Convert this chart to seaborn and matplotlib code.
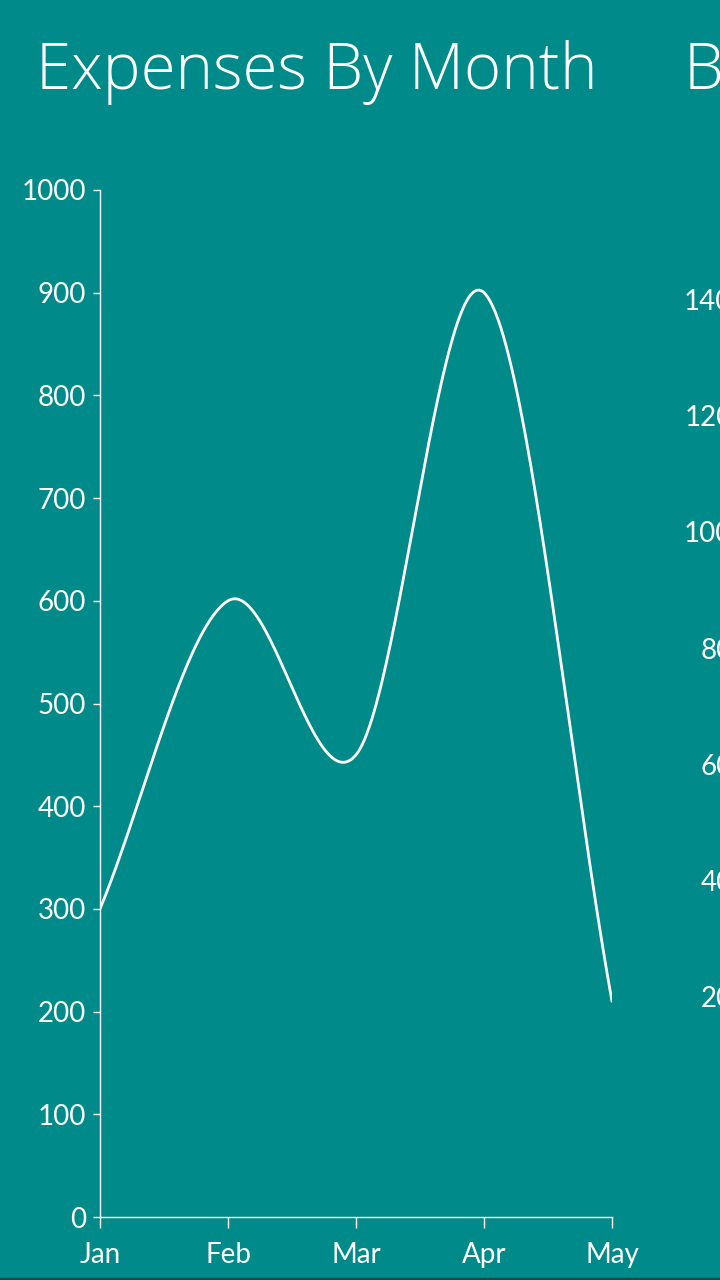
import numpy as np
import pandas as pd
import matplotlib
matplotlib.use("Agg")
import matplotlib.pyplot as plt
import seaborn as sns

# ---- data ----
months = ["Jan", "Feb", "Mar", "Apr", "May"]
expenses = [300, 600, 450, 900, 210]
y_ticks = [0, 100, 200, 300, 400, 500, 600, 700, 800, 900, 1000]
second_title = "Budget"
second_ticks = [20, 40, 60, 80, 100, 120, 140]

BG = "#008B8A"
FG = "white"

sns.set_theme(style="white", rc={
    "figure.facecolor": BG, "axes.facecolor": BG,
    "axes.edgecolor": FG, "xtick.color": FG, "ytick.color": FG,
    "text.color": FG, "axes.labelcolor": FG,
})
plt.rcParams["font.family"] = ["Lato", "DejaVu Sans"]


def catmull_rom(vals, n=200):
    v = np.asarray(vals, dtype=float)
    k = len(v)
    m = np.empty(k)
    m[1:-1] = (v[2:] - v[:-2]) / 2.0
    m[0] = v[1] - v[0]
    m[-1] = v[-1] - v[-2]
    xs, ys = [], []
    for i in range(k - 1):
        t = np.linspace(0, 1, n, endpoint=(i == k - 2))
        h00 = 2 * t**3 - 3 * t**2 + 1
        h10 = t**3 - 2 * t**2 + t
        h01 = -2 * t**3 + 3 * t**2
        h11 = t**3 - t**2
        ys.append(h00 * v[i] + h10 * m[i] + h01 * v[i + 1] + h11 * m[i + 1])
        xs.append(i + t)
    return np.concatenate(xs), np.concatenate(ys)


W, H = 720, 1280
fig = plt.figure(figsize=(W / 100, H / 100), dpi=100)

# main axes: x 100..612 px, y 190..1217 px
ax = fig.add_axes([100 / W, (H - 1217) / H, 512 / W, 1027 / H])
sx, sy = catmull_rom(expenses)
df = pd.DataFrame({"x": sx, "y": sy})
sns.lineplot(data=df, x="x", y="y", ax=ax, color=FG, linewidth=2.0,
             sort=False, estimator=None)
ax.set_xlim(0, len(months) - 1)
ax.set_ylim(0, 1000)
ax.set_xticks(range(len(months)))
ax.set_xticklabels(months)
ax.set_yticks(y_ticks)
ax.set_xlabel("")
ax.set_ylabel("")
for s in ["top", "right"]:
    ax.spines[s].set_visible(False)
for s in ["left", "bottom"]:
    ax.spines[s].set_linewidth(1.0)
    ax.spines[s].set_color(FG)
ax.tick_params(axis="y", length=5, width=1.0, pad=5, labelsize=20, colors=FG, left=True)
ax.tick_params(axis="x", length=8, width=1.0, pad=10, labelsize=20, colors=FG, bottom=True)
ax.grid(False)

# second (cut-off) chart on the right
ax2 = fig.add_axes([745 / W, (H - 1113) / H, 300 / W, 871.5 / H])
ax2.set_facecolor(BG)
ax2.set_ylim(0, 150)
ax2.set_yticks(second_ticks)
ax2.set_xticks([])
for s in ax2.spines.values():
    s.set_visible(False)
ax2.tick_params(axis="y", length=0, pad=9, labelsize=20, colors=FG, left=True)

# titles
title_font = ["Open Sans", "DejaVu Sans"]
fig.text(36 / W, 1 - 89 / H, "Expenses By Month", fontsize=45.8, fontweight="light",
         family=title_font, color=FG, ha="left", va="baseline")
fig.text(684 / W, 1 - 89 / H, second_title, fontsize=45.8, fontweight="light",
         family=title_font, color=FG, ha="left", va="baseline")

# dark strip at bottom
fig.patches.append(plt.Rectangle((0, 0), 1, 2 / H, transform=fig.transFigure,
                                 color="#00504F", zorder=10))

fig.savefig("out.png", dpi=100, facecolor=BG)
